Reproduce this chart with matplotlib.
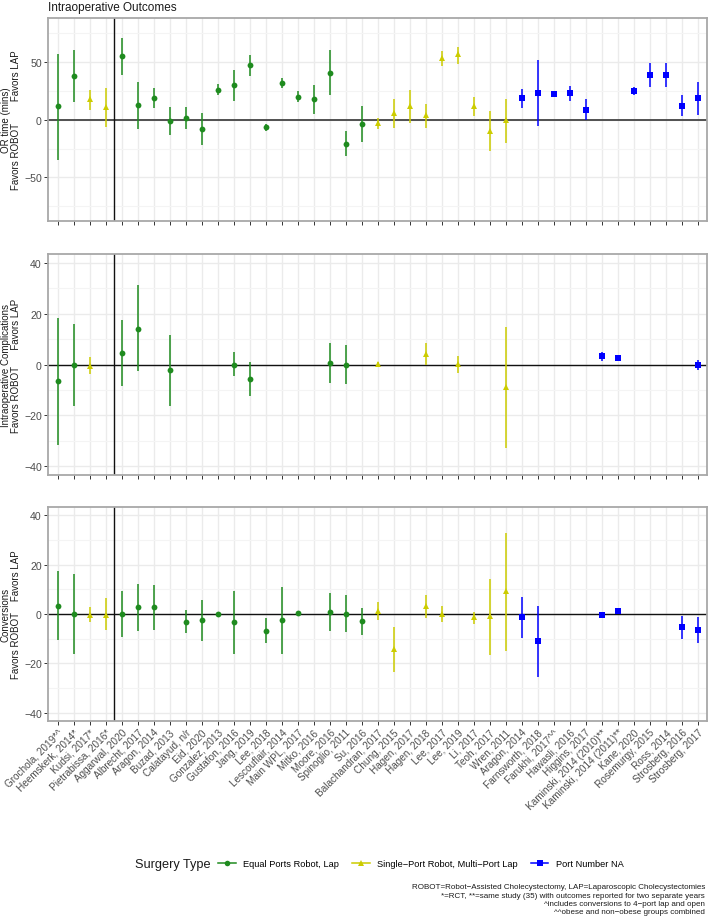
import numpy as np
import matplotlib
matplotlib.use("Agg")
import matplotlib.pyplot as plt
from matplotlib.lines import Line2D
from matplotlib.ticker import MultipleLocator

plt.rcParams['font.family'] = ['Liberation Sans', 'DejaVu Sans']

studies = ["Grochola, 2019*^", "Heemskerk, 2014*", "Kudsi, 2017*", "Pietrabissa, 2016*",
           "Aggarwal, 2020", "Albrecht, 2017", "Aragon, 2014", "Buzad, 2013", "Calatayud, n/r",
           "Eid, 2020", "Gonzalez, 2013", "Gustafon, 2016", "Jang, 2019", "Lee, 2018",
           "Lescouflair, 2014", "Main WPL, 2017", "Mitko, 2016", "Moore, 2016", "Spinoglio, 2011",
           "Su, 2016", "Balachandran, 2017", "Chung, 2015", "Hagen, 2017", "Hagen, 2018",
           "Lee, 2017", "Lee, 2019", "Li, 2017", "Teoh, 2017", "Wren, 2011", "Aragon, 2014",
           "Farnsworth, 2018", "Farukhi, 2017^^", "Hawasli, 2016", "Higgins, 2017",
           "Kaminski, 2014 (2010)**", "Kaminski, 2014 (2011)**", "Kane, 2020", "Rosemurgy, 2015",
           "Ross, 2014", "Strosberg, 2016", "Strosberg, 2017"]

surgery_type = (["Equal Ports Robot, Lap"] * 2 + ["Single\u2212Port Robot, Multi\u2212Port Lap"] * 2
                + ["Equal Ports Robot, Lap"] * 16 + ["Single\u2212Port Robot, Multi\u2212Port Lap"] * 9
                + ["Port Number NA"] * 12)

nan = np.nan
or_est = [11.5, 38, 17.8, 11.2, 55, 12.4, 18.7, -1.1, 1.4, -8, 25.9, 30, 47, -6.6, 31.6, 19.8, 18,
          40.8, -20.7, -3.4, -2.9, 5.5, 11.8, 3.7, 53, 56.6, 11.5, -9.8, -0.6, 18.4, 22.7, 21.8,
          22.7, 8.6, nan, nan, 25, 39, 39, 12, 18.4]
or_lo = [-34.5, 15.5, 8.6, -6, 39, -7.8, 10.3, -13, -8, -21.6, 21, 16.4, 37.6, -10, 27, 15, 5.2,
         21.3, -31.6, -19, -8, -7, -2.9, -7, 46.5, 48.3, 2.9, -27.3, -20, 10.3, -5.7, 20.5, 15.8,
         0, nan, nan, 21.5, 28.4, 28.4, 2.9, 4.3]
or_hi = [57, 60, 25.6, 27.3, 71, 32.5, 27.3, 11, 10.6, 5.7, 30.5, 43.4, 56, -3.7, 36, 24.4, 30,
         60, -10, 12, 1.4, 17.8, 25.6, 13.8, 59, 63, 19.3, 7.2, 17.8, 26.7, 51.4, 23, 29.3, 17.5,
         nan, nan, 28.4, 49.4, 49.4, 21, 32.5]

comp_est = [-6.6, 0, -0.5, nan, 4.7, 14.2, nan, -2, nan, nan, nan, 0, -5.7, nan, nan, nan, nan,
            0.7, 0, nan, 0.3, nan, nan, 4.2, nan, 0.3, nan, nan, -8.9, nan, nan, nan, nan, nan,
            3.2, 2.6, nan, nan, nan, nan, -0.3]
comp_lo = [-31.6, -16.2, -3.6, nan, -8.3, -2.5, nan, -16.2, nan, nan, nan, -4.7, -12.4, nan, nan,
           nan, nan, -7.2, -7.6, nan, -0.3, nan, nan, -0.3, nan, -3.4, nan, nan, -32.9, nan, nan,
           nan, nan, nan, 1.3, 1.8, nan, nan, nan, nan, -2.1]
comp_hi = [18.3, 16, 2.9, nan, 17.6, 31.2, nan, 11.8, nan, nan, nan, 5, 1, nan, nan, nan, nan,
           8.6, 7.6, nan, 0.8, nan, nan, 8.6, nan, 3.3, nan, nan, 14.7, nan, nan, nan, nan, nan,
           5.1, 3.4, nan, nan, nan, nan, 1.6]

conv_est = [3.3, 0, -0.4, -0.3, 0, 2.9, 2.9, nan, -3.2, -2.5, 0, -3.4, nan, -6.7, -2.3, 0.3, nan,
            0.7, 0, -2.9, 1.2, -14.1, nan, 3.3, 0.1, nan, -1.2, -1, 9.3, -1.1, -11.1, nan, nan,
            nan, -0.3, 1.4, nan, nan, nan, -5.3, -6.4]
conv_lo = [-10.7, -16.2, -3.3, -6.3, -9.5, -6.7, -6.3, nan, -7.9, -10.8, -0.3, -16.3, nan, -11.8,
           -16.2, 0, nan, -7.1, -7.5, -8.5, -2.6, -23.6, nan, -1.5, -3.4, nan, -4, -16.7, -14.9,
           -9.6, -25.6, nan, nan, nan, -0.8, 0.9, nan, nan, nan, -10.1, -11.9]
conv_hi = [17.5, 16.2, 2.9, 6.3, 9.5, 12.3, 11.8, nan, 1.6, 5.8, 0.3, 9.5, nan, -1.6, 11.1, 0.6,
           nan, 8.5, 7.7, 2.6, 4.9, -5.1, nan, 7.7, 3.4, nan, 1, 14.2, 33, 7, 3.3, nan, nan, nan,
           0.2, 1.9, nan, nan, nan, -0.8, -1.1]

panel_titles = ["OR time (mins)\nFavors ROBOT        Favors LAP",
                "Intraoperative Complications\nFavors ROBOT      Favors LAP",
                "Conversions\nFavors ROBOT    Favors LAP"]

type_order = ["Equal Ports Robot, Lap", "Single\u2212Port Robot, Multi\u2212Port Lap", "Port Number NA"]
type_color = {type_order[0]: "#1f8b1f", type_order[1]: "#cccc00", type_order[2]: "#0000ff"}
type_marker = {type_order[0]: "o", type_order[1]: "^", type_order[2]: "s"}

W, H = 709, 920
fig = plt.figure(figsize=(W / 100, H / 100), dpi=100)

def rect(left, top, right, bottom):
    return [left / W, 1 - bottom / H, (right - left) / W, (bottom - top) / H]

rects = [rect(48, 19, 707.3, 222.3), rect(48, 255, 707.3, 476), rect(48, 508.3, 707.3, 721.7)]
ylims = [(-88, 88), (-43.6, 43.6), (-43.3, 43.3)]
majors = [50, 20, 20]
minors = [25, 10, 10]
data = [(or_est, or_lo, or_hi), (comp_est, comp_lo, comp_hi), (conv_est, conv_lo, conv_hi)]
zero_colors = ["#444444", "#111111", "#111111"]

x = np.arange(1, len(studies) + 1)
types = np.array(surgery_type)
grid_col = "#ebebeb"

for i, (r, yl, (est, lo, hi)) in enumerate(zip(rects, ylims, data)):
    ax = fig.add_axes(r)
    est = np.array(est, float); lo = np.array(lo, float); hi = np.array(hi, float)
    ax.set_xlim(0.4, len(studies) + 0.6)
    ax.set_ylim(*yl)
    ax.yaxis.set_major_locator(MultipleLocator(majors[i]))
    ax.yaxis.set_minor_locator(MultipleLocator(minors[i]))
    ax.set_xticks(x)
    ax.grid(True, which='major', color=grid_col, lw=1.0, zorder=0)
    ax.grid(True, which='minor', axis='y', color="#f4f4f4", lw=0.8, zorder=0)
    ax.set_axisbelow(True)
    for s in ax.spines.values():
        s.set_color("#a8a8a8"); s.set_linewidth(1.3)
    ax.axhline(0, color=zero_colors[i], lw=1.3 if i == 0 else 1.0, zorder=1)
    ax.axvline(4.5, color="#111111", lw=1.0, zorder=1)
    for t in type_order:
        m = types == t
        ax.vlines(x[m], lo[m], hi[m], color=type_color[t], lw=1.1, zorder=2)
        ax.plot(x[m], est[m], linestyle='none', marker=type_marker[t], color=type_color[t],
                ms=4.2 if t != type_order[1] else 4.6, mew=0, zorder=3)
    ax.tick_params(axis='both', which='major', length=3, width=0.7, color="#333333",
                   labelsize=7.6, labelcolor="#4d4d4d", pad=1.5)
    ax.tick_params(axis='y', which='minor', length=0)
    if i < 2:
        ax.set_xticklabels([])
    else:
        ax.set_xticklabels(studies, rotation=45, ha='right', va='top', rotation_mode='anchor',
                           fontsize=7.2, color="#4d4d4d")
    fig.text(11 / W, r[1] + r[3] / 2, panel_titles[i], rotation=90, ha='center', va='center',
             multialignment='center', fontsize=7.0, linespacing=1.05, color="#1a1a1a")

fig.text(48 / W, 1 - 7.5 / H, "Intraoperative Outcomes", ha='left', va='center', fontsize=8.5,
         color="#1a1a1a")

# legend
fig.text(135 / W, 1 - 865 / H, "Surgery Type", ha='left', va='center', fontsize=9.2, color="#1a1a1a")
handles = [Line2D([0], [0], color=type_color[t], marker=type_marker[t], ms=4, mew=0, lw=1.1)
           for t in type_order]
leg = fig.legend(handles, type_order, loc='center left', bbox_to_anchor=(218 / W, 1 - 865 / H),
                 ncol=3, frameon=False, fontsize=6.7, handlelength=1.9, handletextpad=0.8,
                 columnspacing=1.4, borderaxespad=0, borderpad=0)

notes = ["ROBOT=Robot\u2212Assisted Cholecystectomy, LAP=Laparoscopic Cholecystectomies",
         "*=RCT, **=same study (35) with outcomes reported for two separate years",
         "^includes conversions to 4\u2212port lap and open",
         "^^obese and non\u2212obese groups combined"]
for k, n in enumerate(notes):
    fig.text(705 / W, 1 - (888 + 8.3 * k) / H, n, ha='right', va='center', fontsize=5.8,
             color="#1a1a1a")

fig.savefig("out.png", dpi=100)
